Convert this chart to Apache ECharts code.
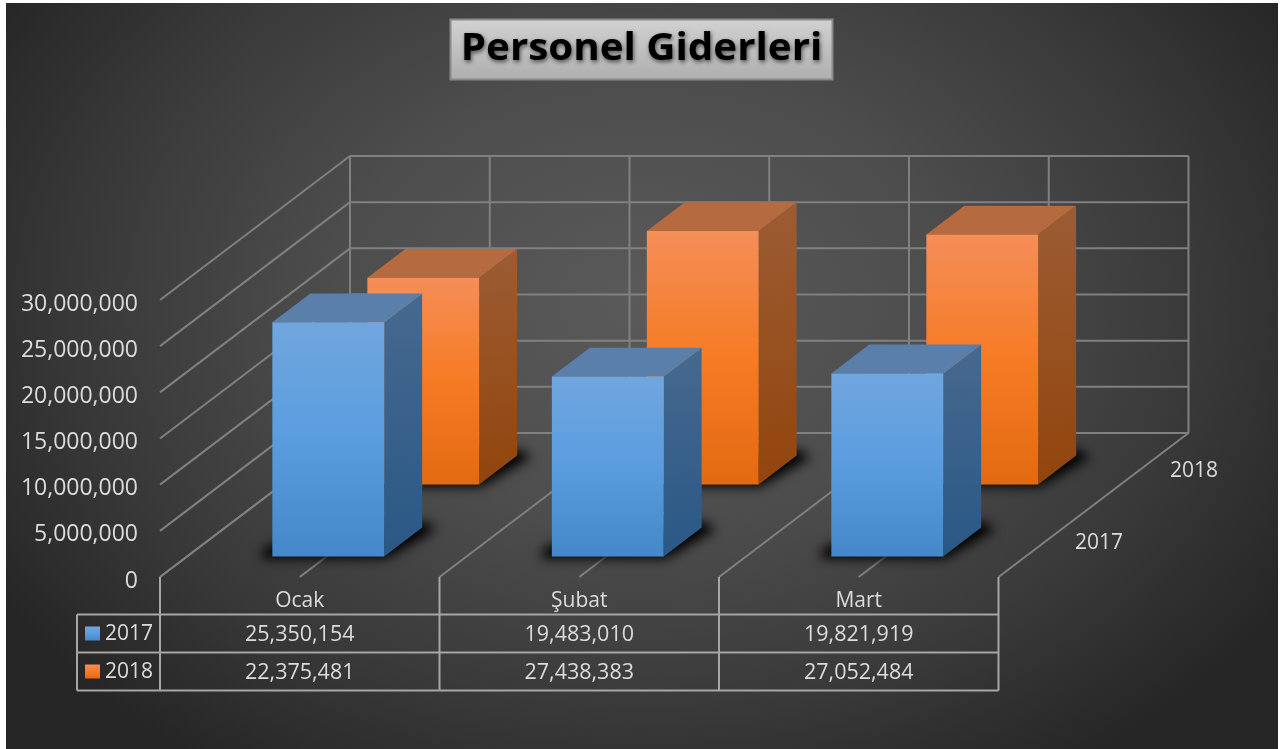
<!DOCTYPE html>
<html>
<head>
<meta charset="utf-8">
<title>Personel Giderleri</title>
<script src="https://cdn.jsdelivr.net/npm/echarts@6/dist/echarts.min.js"></script>
<style>
  html, body { margin: 0; height: 100%; background: #fff; overflow: hidden; }
  #panel {
    position: absolute; left: 6px; top: 3px; width: 1272px; height: 746px;
    background: radial-gradient(ellipse 760px 560px at 50% 40%, #5a5a5a 0%, #4d4d4d 40%, #3a3a3a 72%, #262626 100%);
  }
  #chart { position: absolute; left: 0; top: 0; width: 1285px; height: 749px; }
</style>
</head>
<body>
<div id="panel"></div>
<div id="chart"></div>
<script>
const months = ['Ocak', 'Şubat', 'Mart'];
const years = ['2017', '2018'];
const values2017 = [25350154, 19483010, 19821919];
const values2018 = [22375481, 27438383, 27052484];
const valueTicks = [0, 5000000, 10000000, 15000000, 20000000, 25000000, 30000000];

// oblique projection of the depth axis, px for the full floor depth
const DEPTH_X = 190;
const DEPTH_Y = -144;
const LINE = '#808080';
const TABLE_LINE = '#a6a6a6';
const TEXT = '#dcdcdc';
const FONT = '"Open Sans", sans-serif';
const OFFSCREEN = 3000;

const fmt = v => v.toLocaleString('en-US');
const grad = (x2, y2, stops) => new echarts.graphic.LinearGradient(0, 0, x2, y2,
  stops.map(s => ({ offset: s[0], color: s[1] })));
const seg = (x1, y1, x2, y2, color, width) => ({
  type: 'line',
  shape: { x1, y1, x2, y2 },
  style: { stroke: color || LINE, lineWidth: width || 2 },
  silent: true
});
const label = (text, x, y, align, size) => ({
  type: 'text',
  style: { text, x, y, align: align || 'center', verticalAlign: 'middle', fill: TEXT, font: (size || 21) + 'px ' + FONT },
  silent: true
});

const barColors = [
  {
    front: [[0, '#70a6de'], [0.5, '#5a9ddf'], [1, '#4488ca']],
    side: [[0, '#47698f'], [1, '#2a5886']],
    top: '#5a7fab'
  },
  {
    front: [[0, '#f58e58'], [0.5, '#f67b24'], [1, '#e46a12']],
    side: [[0, '#9c5c34'], [1, '#92450d']],
    top: '#b66a40'
  }
];

// walls and floor of the 3D box
function renderFrame(params, api) {
  const band = api.size([1, 0])[0];
  const [left, bottom] = api.coord([0, 0]);
  const x0 = left - band / 2;
  const x1 = x0 + band * months.length;
  const children = [];
  valueTicks.forEach(v => {
    const y = api.coord([0, v])[1];
    children.push(seg(x0, y, x0 + DEPTH_X, y + DEPTH_Y));
    children.push(seg(x0 + DEPTH_X, y + DEPTH_Y, x1 + DEPTH_X, y + DEPTH_Y));
  });
  const top = api.coord([0, valueTicks[valueTicks.length - 1]])[1];
  for (let i = 0; i <= months.length * 2; i++) {
    const x = x0 + band * i / 2;
    children.push(seg(x, bottom, x + DEPTH_X, bottom + DEPTH_Y));
    children.push(seg(x + DEPTH_X, bottom + DEPTH_Y, x + DEPTH_X, top + DEPTH_Y));
  }
  years.forEach((y, r) => {
    const z = (r + 0.5) / years.length;
    children.push(label(y, x1 + DEPTH_X * z + 29, bottom + DEPTH_Y * z + 2, 'left'));
  });
  return { type: 'group', children };
}

function makeBarRenderer(row) {
  return function (params, api) {
    const i = api.value(0);
    const band = api.size([1, 0])[0];
    const [cx, base] = api.coord([i, 0]);
    const top = api.coord([i, api.value(1)])[1];
    const w = band * 0.4;
    const z0 = (row + 0.3) / years.length;
    const z1 = (row + 0.7) / years.length;
    const xl = cx - w / 2 + DEPTH_X * z0;
    const xr = xl + w;
    const yb = base + DEPTH_Y * z0 + 1;
    const yt = top + DEPTH_Y * z0 + 1;
    const dx = DEPTH_X * (z1 - z0);
    const dy = DEPTH_Y * (z1 - z0);
    const colors = barColors[row];
    // shape sits off canvas so only its blurred shadow lands on the floor
    const shadowPts = [[xl - 10, yb + 2], [xr + 2, yb + 2], [xr + dx + 14, yb + dy + 2], [xr + dx + 2, yb + dy - 6], [xl, yb - 12], [xl - 10, yb - 6]]
      .map(p => [p[0] - OFFSCREEN, p[1]]);
    return {
      type: 'group',
      children: [
        {
          type: 'polygon',
          shape: { points: shadowPts },
          style: { fill: '#000', shadowColor: '#000', shadowBlur: 12, shadowOffsetX: OFFSCREEN },
          silent: true
        },
        {
          type: 'polygon',
          shape: { points: [[xr, yt], [xr + dx, yt + dy], [xr + dx, yb + dy], [xr, yb]] },
          style: { fill: grad(0.4, 1, colors.side) }
        },
        {
          type: 'polygon',
          shape: { points: [[xl, yt], [xr, yt], [xr + dx, yt + dy], [xl + dx, yt + dy]] },
          style: { fill: colors.top }
        },
        {
          type: 'rect',
          shape: { x: xl, y: yt, width: w, height: yb - yt },
          style: { fill: grad(0, 1, colors.front) }
        }
      ]
    };
  };
}

// data table under the floor, one item per month
function renderTable(params, api) {
  const i = api.value(0);
  const band = api.size([1, 0])[0];
  const [cx, bottom] = api.coord([i, 0]);
  const rowTop = bottom + 37.5;
  const rowH = 38;
  const x0 = cx - band / 2;
  const x1 = x0 + band;
  const rows = [values2017, values2018];
  const children = [seg(x1, bottom, x1, rowTop + rowH * 2, TABLE_LINE, 2)];
  if (i === 0) {
    const legendX = x0 - 83;
    children.push(seg(x0, bottom, x0, rowTop + rowH * 2, TABLE_LINE, 2));
    children.push(seg(legendX, rowTop, legendX, rowTop + rowH * 2, TABLE_LINE, 2));
    [0, 1, 2].forEach(r => children.push(seg(legendX, rowTop + rowH * r, x0, rowTop + rowH * r, TABLE_LINE, 2)));
    years.forEach((y, r) => {
      const yc = rowTop + rowH * (r + 0.5);
      children.push({
        type: 'rect',
        shape: { x: legendX + 8, y: yc - 7, width: 15, height: 14 },
        style: { fill: grad(0, 1, barColors[r].front) }
      });
      children.push(label(y, legendX + 28, yc + 1, 'left'));
    });
  }
  [0, 1, 2].forEach(r => children.push(seg(x0, rowTop + rowH * r, x1, rowTop + rowH * r, TABLE_LINE, 2)));
  rows.forEach((vals, r) => children.push(label(fmt(vals[i]), cx, rowTop + rowH * (r + 0.5) + 1, 'center', 21.5)));
  return { type: 'group', children };
}

const chart = echarts.init(document.getElementById('chart'));
chart.setOption({
  animation: false,
  backgroundColor: 'transparent',
  graphic: [
    {
      type: 'rect',
      shape: { x: 450.5, y: 19.5, width: 382, height: 60 },
      style: { fill: grad(0, 1, [[0, '#d2d2d2'], [1, '#aeaeae']]), stroke: '#8a8a8a', lineWidth: 2 }
    },
    {
      // the reference title is tracked out, so it is stretched to the same width
      type: 'text',
      x: 641.5,
      y: 49,
      scaleX: 1.09,
      style: {
        text: 'Personel Giderleri',
        align: 'center',
        verticalAlign: 'middle',
        fill: '#000',
        font: 'bold 37px ' + FONT,
        textShadowColor: 'rgba(0,0,0,0.6)',
        textShadowBlur: 4,
        textShadowOffsetX: 1,
        textShadowOffsetY: 2
      }
    }
  ],
  grid: { left: 160, top: 300, width: 838.5, height: 277, containLabel: false },
  xAxis: {
    type: 'category',
    data: months,
    axisLine: { show: false },
    axisTick: { show: false },
    axisLabel: { color: TEXT, fontFamily: FONT, fontSize: 21, margin: 14 }
  },
  yAxis: {
    type: 'value',
    min: 0,
    max: 30000000,
    interval: 5000000,
    axisLine: { show: false },
    axisTick: { show: false },
    splitLine: { show: false },
    axisLabel: { color: TEXT, fontFamily: FONT, fontSize: 23, margin: 22, verticalAlign: 'top', lineHeight: 8, formatter: fmt }
  },
  series: [
    { type: 'custom', name: 'frame', silent: true, renderItem: renderFrame, data: [[0, 0]] },
    { type: 'custom', name: '2018', renderItem: makeBarRenderer(1), data: values2018.map((v, i) => [i, v]) },
    { type: 'custom', name: '2017', renderItem: makeBarRenderer(0), data: values2017.map((v, i) => [i, v]) },
    { type: 'custom', name: 'table', silent: true, renderItem: renderTable, data: months.map((m, i) => [i, 0]) }
  ]
});
</script>
</body>
</html>
